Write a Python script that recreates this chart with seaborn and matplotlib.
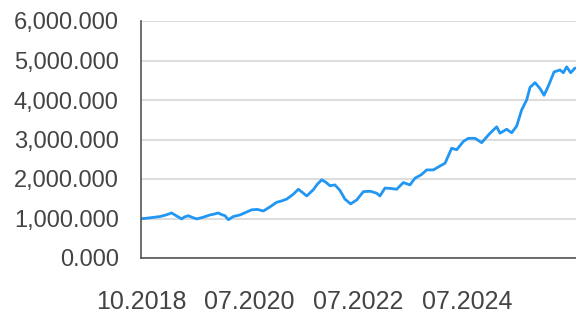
import numpy as np
import pandas as pd
import matplotlib
matplotlib.use("Agg")
import matplotlib.pyplot as plt
import seaborn as sns
from matplotlib.ticker import FuncFormatter

# position along the x axis, in tick steps (0 = 10.2018, 1 = 07.2020, ...)
step = [0.00, 0.06, 0.12, 0.175, 0.23, 0.282, 0.33, 0.374, 0.40, 0.436, 0.47,
        0.512, 0.57, 0.635, 0.67, 0.712, 0.74, 0.773, 0.804,
        0.850, 0.911, 0.96, 1.018, 1.07, 1.126, 1.19, 1.248, 1.30, 1.340, 1.40,
        1.448, 1.49, 1.525, 1.586, 1.62, 1.663,
        1.70, 1.739, 1.785, 1.831, 1.877, 1.929, 1.985, 2.046, 2.11, 2.169,
        2.199, 2.245, 2.30, 2.353, 2.414, 2.475, 2.521, 2.58, 2.629, 2.690,
        2.752, 2.798, 2.859, 2.905, 2.966, 3.012, 3.074, 3.135, 3.212, 3.273,
        3.304, 3.365, 3.411, 3.457, 3.503, 3.549, 3.580, 3.626, 3.672, 3.709,
        3.748, 3.801, 3.856, 3.887, 3.917, 3.954, 3.994]
# portfolio value in thousands
value = [993, 1010, 1030, 1050, 1090, 1140, 1060, 990, 1040, 1070, 1030,
         990, 1030, 1090, 1110, 1140, 1100, 1070, 970,
         1050, 1090, 1150, 1220, 1230, 1190, 1300, 1410, 1450, 1490, 1610,
         1740, 1650, 1570, 1730, 1860, 1980,
         1920, 1830, 1850, 1710, 1490, 1370, 1470, 1680, 1690, 1640,
         1570, 1770, 1760, 1740, 1910, 1850, 2020, 2110, 2230, 2230,
         2330, 2400, 2780, 2740, 2950, 3030, 3030, 2920, 3160, 3320,
         3160, 3260, 3170, 3340, 3750, 4000, 4320, 4440, 4290, 4120,
         4350, 4710, 4760, 4690, 4840, 4690, 4810]
tick_steps = [0, 1, 2, 3]
tick_labels = ["10.2018", "07.2020", "07.2022", "07.2024"]
y_ticks = [0, 1000, 2000, 3000, 4000, 5000, 6000]

df = pd.DataFrame({"step": step, "value": value})

sns.set_style("white")
plt.rcParams["font.family"] = ["Liberation Sans", "DejaVu Sans"]

fig = plt.figure(figsize=(5.76, 3.16), dpi=100)
ax = fig.add_axes([141 / 576, 58 / 316, 435 / 576, 237 / 316])

sns.lineplot(data=df, x="step", y="value", ax=ax, color="#2196f3", lw=2)

ax.set_xlim(0, 4.003)
ax.set_ylim(0, 6000)
ax.set_yticks(y_ticks)
ax.yaxis.set_major_formatter(FuncFormatter(lambda v, _: f"{v:,.3f}"))
ax.set_xticks(tick_steps)
ax.set_xticklabels(tick_labels)
ax.set_xlabel("")
ax.set_ylabel("")

ax.grid(axis="y", color="#dddddd", lw=1.5)
ax.set_axisbelow(True)
for s in ["top", "right"]:
    ax.spines[s].set_visible(False)
for s in ["left", "bottom"]:
    ax.spines[s].set_color("#555555")
    ax.spines[s].set_linewidth(1.2)

ax.tick_params(axis="y", length=0, pad=16, labelsize=17, labelcolor="#444444")
ax.tick_params(axis="x", length=9, width=1.5, color="#cccccc", direction="out",
               pad=14, labelsize=18, labelcolor="#444444")

fig.savefig("out.png", dpi=100)
